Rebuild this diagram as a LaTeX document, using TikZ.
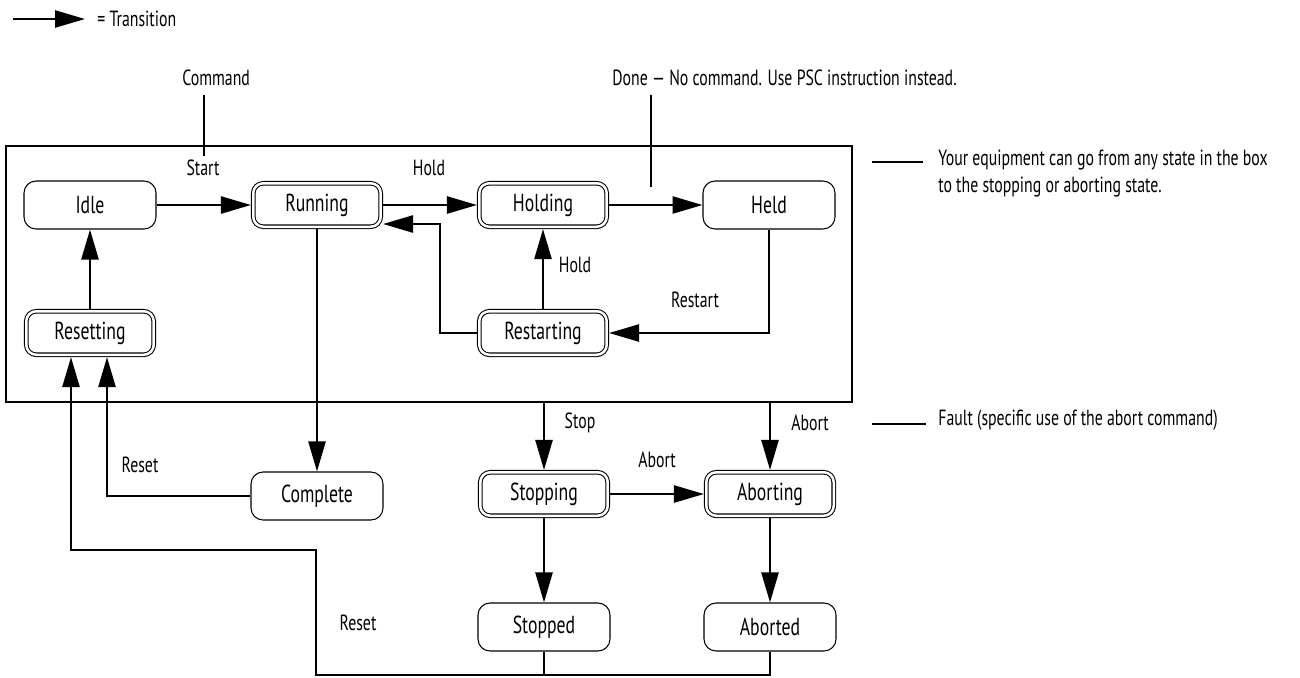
\documentclass[tikz,border=0pt]{standalone}
\usepackage{fontspec}
\setmainfont{PT Sans}[FakeStretch=0.72]
\usetikzlibrary{arrows.meta, positioning, calc}

\begin{document}
\begin{tikzpicture}[
    x=0.02cm, y=-0.02cm,
    state/.style={draw, line width=0.6pt, rounded corners=0.24cm, minimum width=2.64cm,
                  minimum height=0.96cm, inner sep=0pt, font=\fontsize{14}{16}\selectfont},
    dstate/.style={state, double, double distance=0.05cm, minimum width=2.55cm,
                   minimum height=0.87cm, rounded corners=0.2cm, outer sep=0.046cm},
    arrow/.style={-{Triangle[length=0.6cm, width=0.34cm]}, line width=1.4pt},
    conn/.style={line width=1.4pt},
    lbl/.style={inner sep=0pt, font=\fontsize{12.5}{14}\selectfont},
    note/.style={lbl, anchor=west, align=left, font=\fontsize{12.5}{15.4}\selectfont}
]
\useasboundingbox (0,0) rectangle (1300,677);

% legend
\coordinate (legA) at (13,19); \coordinate (legB) at (85,19);
\draw[arrow] (legA) -- (legB);
\node[lbl, anchor=west] (legend) at (97,19) {= Transition};

% states inside the box
\node[state]  (idle)       at (90,205)  {Idle};
\node[dstate] (running)    at (317,205) {Running};
\node[dstate] (holding)    at (543,205) {Holding};
\node[state]  (held)       at (769,205) {Held};
\node[dstate] (resetting)  at (90,333)  {Resetting};
\node[dstate] (restarting) at (543,333) {Restarting};

% states below the box
\node[state]  (complete) at (317,496) {Complete};
\node[dstate] (stopping) at (544,494) {Stopping};
\node[dstate] (aborting) at (770,494) {Aborting};
\node[state]  (stopped)  at (544,627) {Stopped};
\node[state]  (aborted)  at (770,627) {Aborted};

% the box
\coordinate (boxNW) at (6,146); \coordinate (boxSE) at (852,402);
\draw[conn] (boxNW) rectangle (boxSE);

% commands and notes
\node[lbl, anchor=west] (cmd)  at (182,78) {Command};
\node[lbl, anchor=west] (done) at (612,78) {Done — No command. Use PSC instruction instead.};
\coordinate (cmdA) at (204,95);  \coordinate (cmdB) at (204,156);
\coordinate (doneA) at (651,95); \coordinate (doneB) at (651,187);
\draw[conn] (cmdA) -- (cmdB);
\draw[conn] (doneA) -- (doneB);

\node[note] (anynote) at (938,174) {Your equipment can go from any state in the box\\to the stopping or aborting state.};
\coordinate (anyA) at (872,162); \coordinate (anyB) at (923,162);
\draw[conn] (anyA) -- (anyB);
\node[lbl, anchor=west] (fault) at (938,420) {Fault (specific use of the abort command)};
\coordinate (faultA) at (872,424); \coordinate (faultB) at (926,424);
\draw[conn] (faultA) -- (faultB);

% transitions
\draw[arrow] (idle) -- (running);
\draw[arrow] (running) -- (holding);
\draw[arrow] (holding) -- (held);
\draw[arrow] (held.south) |- (restarting.east);
\draw[arrow] (restarting) -- (holding);
\coordinate (rsback) at (440,224);
\draw[arrow] (restarting.west) -| (rsback) -- (running.east |- rsback);
\draw[arrow] (resetting) -- (idle);
\draw[arrow] (running) -- (complete);
\draw[arrow] (complete.west) -| ([xshift=0.34cm]resetting.south);

\coordinate (stopin) at (544,402); \coordinate (abortin) at (770,402);
\draw[arrow] (stopin) -- (stopping);
\draw[arrow] (abortin) -- (aborting);
\draw[arrow] (stopping) -- (aborting);
\draw[arrow] (stopping) -- (stopped);
\draw[arrow] (aborting) -- (aborted);

\coordinate (rstlow) at (316,675); \coordinate (rstmid) at (316,550);
\draw[arrow] (aborted.south) |- (rstlow) -- (rstmid) -| ([xshift=-0.38cm]resetting.south);
\draw[conn] (stopped.south) -- (stopped.south |- rstlow);

% transition labels
\node[lbl] (lstart)   at (203,168) {Start};
\node[lbl] (lhold)    at (429,168) {Hold};
\node[lbl] (lhold2)   at (575,265) {Hold};
\node[lbl] (lrestart) at (695,300) {Restart};
\node[lbl] (lreset)   at (140,465) {Reset};
\node[lbl] (lstop)    at (580,423) {Stop};
\node[lbl] (labort)   at (810,423) {Abort};
\node[lbl] (labort2)  at (657,460) {Abort};
\node[lbl] (lreset2)  at (358,623) {Reset};
\end{tikzpicture}
\end{document}
